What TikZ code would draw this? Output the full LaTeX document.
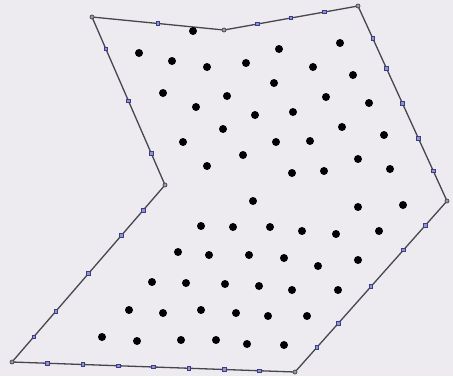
\documentclass[tikz,border=0pt]{standalone}
\usetikzlibrary{calc}
\definecolor{bg}{RGB}{237,235,240}
\definecolor{edgec}{RGB}{70,70,80}
\definecolor{markc}{RGB}{60,60,140}
\begin{document}
\begin{tikzpicture}[x=1pt,y=-1pt,
  dotstyle/.style={circle,fill=black,inner sep=0pt,minimum size=8pt},
  vmark/.style={circle,draw=edgec,fill=edgec!55,inner sep=0pt,minimum size=4pt,line width=0.7pt},
  emark/.style={rectangle,draw=markc,fill=markc!55,inner sep=0pt,minimum size=3.6pt,line width=0.7pt},
  border/.style={draw=edgec,line width=1.3pt,line join=round}]
\fill[bg] (0,0) rectangle (453,376);
\useasboundingbox (0,0) rectangle (453,376);
% polygon vertices
\coordinate (v1) at (92,17);
\coordinate (v2) at (224,30);
\coordinate (v3) at (358,6);
\coordinate (v4) at (447,201);
\coordinate (v5) at (295,372);
\coordinate (v6) at (12,362);
\coordinate (v7) at (165,185);
\draw[border] (v1) -- (v2) -- (v3) -- (v4) -- (v5) -- (v6) -- (v7) -- cycle;
% edge markers
\foreach \a/\b/\f [count=\k] in {
  v1/v2/0.5,
  v2/v3/0.25, v2/v3/0.5, v2/v3/0.75,
  v3/v4/0.165, v3/v4/0.32, v3/v4/0.5, v3/v4/0.68, v3/v4/0.845,
  v4/v5/0.143, v4/v5/0.286, v4/v5/0.5, v4/v5/0.714, v4/v5/0.857,
  v5/v6/0.125, v5/v6/0.25, v5/v6/0.375, v5/v6/0.5, v5/v6/0.625, v5/v6/0.75, v5/v6/0.875,
  v6/v7/0.143, v6/v7/0.286, v6/v7/0.5, v6/v7/0.714, v6/v7/0.857,
  v7/v1/0.19, v7/v1/0.5, v7/v1/0.81}
  \node[emark] (m\k) at ($(\a)!\f!(\b)$) {};
% vertex markers
\foreach \v in {v1,v2,v3,v4,v5,v6,v7}
  \node[vmark] (k\v) at (\v) {};
% dots
\foreach \x/\y [count=\i] in {
  193/31, 139/53, 172/61, 207/67, 246/63, 279/49, 340/43, 313/67, 353/75,
  163/93, 227/96, 274/83, 326/97, 369/103,
  196/107, 255/115, 293/112, 342/127, 384/135,
  223/129, 183/142, 276/142, 310/141,
  243/155, 358/159,
  207/166, 292/173, 324/171, 390/169,
  253/201, 358/207, 403/205,
  201/226, 233/227, 270/227, 302/231, 336/234, 379/231,
  178/252, 209/255, 249/255, 284/258, 318/266, 358/260,
  152/282, 186/283, 225/284, 259/286, 292/290, 338/290,
  129/310, 163/313, 201/310, 236/313, 268/316, 307/316,
  102/337, 137/341, 181/340, 216/340, 247/344, 284/345}
  \node[dotstyle] (d\i) at (\x,\y) {};
\end{tikzpicture}
\end{document}
